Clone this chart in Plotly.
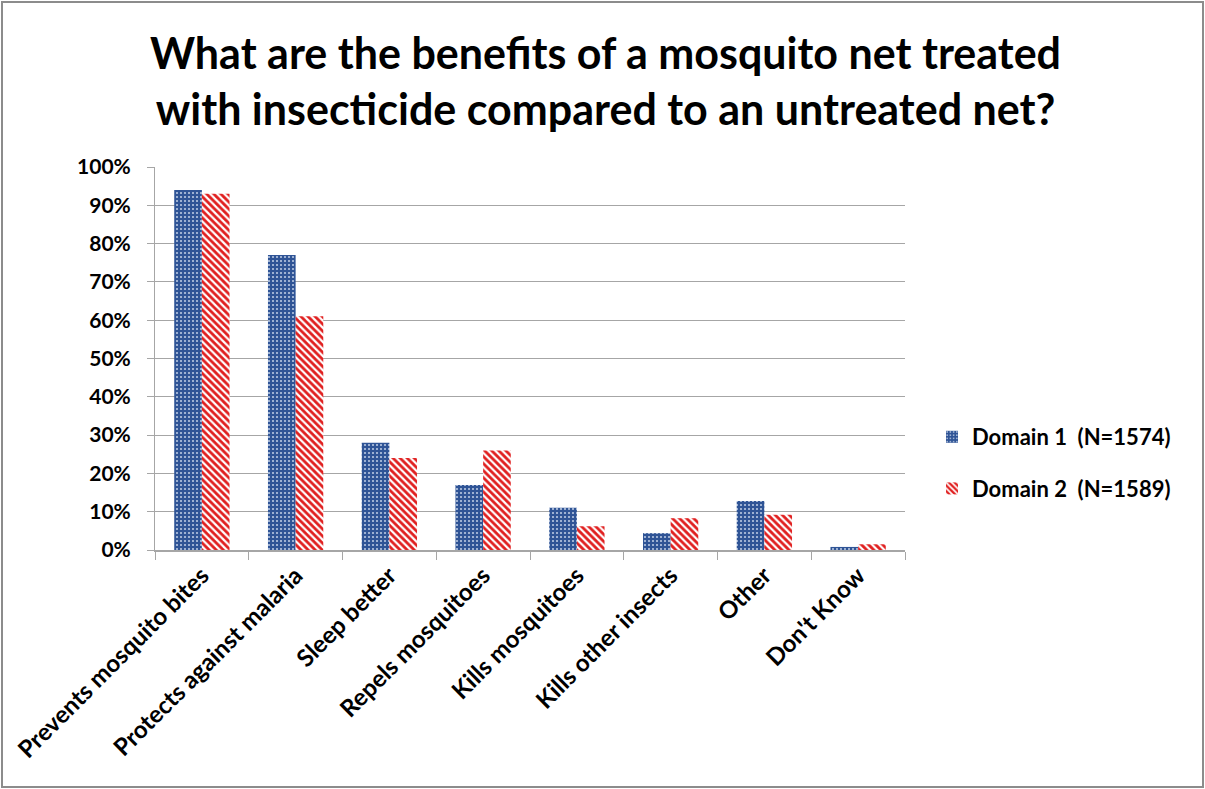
import plotly.graph_objects as go

categories = ["Prevents mosquito bites", "Protects against malaria", "Sleep better",
              "Repels mosquitoes", "Kills mosquitoes", "Kills other insects",
              "Other", "Don't Know"]
domain1 = [0.94, 0.77, 0.28, 0.17, 0.11, 0.044, 0.128, 0.008]
domain2 = [0.93, 0.61, 0.24, 0.26, 0.062, 0.083, 0.092, 0.015]
name1 = "Domain 1  (N=1574)"
name2 = "Domain 2  (N=1589)"
ytick_vals = [i / 10 for i in range(11)]
ytick_text = [f"{i * 10}%" for i in range(11)]
title_text = ("What are the benefits of a mosquito net treated<br>"
              "with insecticide compared to an untreated net?")

FONT = "Lato"
PLOT_L, PLOT_R, PLOT_T, PLOT_B = 155, 905, 167, 550
W, H = 1205, 789
PW, PH = PLOT_R - PLOT_L, PLOT_B - PLOT_T


def px_to_paper_x(px):
    return (px - PLOT_L) / PW


def px_to_paper_y(py):
    return (PLOT_B - py) / PH


fig = go.Figure()
fig.add_trace(go.Bar(
    x=categories, y=domain1, name=name1, legendgroup="d1",
    marker=dict(color="#2f5496",
                line=dict(width=0),
                pattern=dict(shape=".", fgcolor="#b9c8e2", bgcolor="#2f5496",
                             size=4, solidity=0.22, fgopacity=1)),
))
fig.add_trace(go.Bar(
    x=categories, y=domain2, name=name2, legendgroup="d2",
    marker=dict(color="#e01f1f",
                line=dict(width=0),
                pattern=dict(shape="\\", fgcolor="#ffffff", bgcolor="#e01f1f",
                             size=5, solidity=0.45, fgopacity=1)),
))

fig.update_layout(
    width=W, height=H,
    paper_bgcolor="white", plot_bgcolor="white",
    margin=dict(l=PLOT_L, r=W - PLOT_R, t=PLOT_T, b=H - PLOT_B),
    barmode="group", bargap=0.41, bargroupgap=0,
    legend=dict(x=px_to_paper_x(932), y=px_to_paper_y(463), xanchor="left", yanchor="middle",
                font=dict(family=FONT, size=22, color="black", weight="bold"),
                traceorder="grouped", tracegroupgap=20, itemwidth=30),
    font=dict(family=FONT, color="black"),
    showlegend=True,
)

# chart title, two centred lines
fig.add_annotation(text=title_text, xref="paper", yref="paper",
                   x=px_to_paper_x(605), y=px_to_paper_y(80),
                   xanchor="center", yanchor="middle", showarrow=False,
                   font=dict(family=FONT, size=43, color="black", weight="bold"),
                   align="center")

fig.update_yaxes(range=[0, 1.0], tickvals=ytick_vals, ticktext=ytick_text,
                 showgrid=True, gridcolor="#a6a6a6", gridwidth=1,
                 showline=True, linecolor="#a6a6a6", linewidth=1,
                 ticks="outside", ticklen=7, tickcolor="#a6a6a6",
                 ticklabelstandoff=12,
                 tickfont=dict(family=FONT, size=21, color="black", weight="bold"),
                 zeroline=False)
fig.update_xaxes(tickangle=-45, tickson="boundaries",
                 showline=True, linecolor="#a6a6a6", linewidth=2,
                 ticks="outside", ticklen=8, tickcolor="#a6a6a6",
                 tickfont=dict(family=FONT, size=24, color="black", weight="bold"))

# outer frame around the whole chart
fig.add_shape(type="rect", xref="paper", yref="paper",
              x0=px_to_paper_x(2), x1=px_to_paper_x(W - 2),
              y0=px_to_paper_y(H - 2), y1=px_to_paper_y(2),
              line=dict(color="#8c8c8c", width=2), layer="above")

fig.write_html("out.html")
